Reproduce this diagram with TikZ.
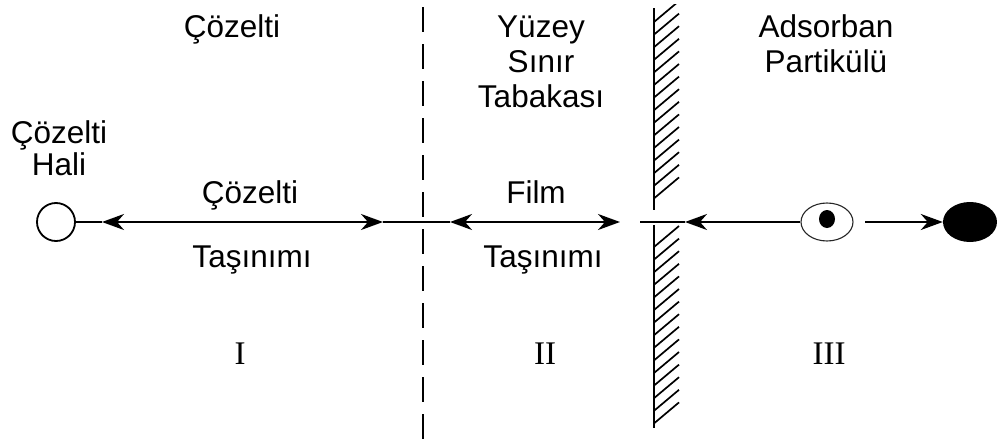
\documentclass[tikz,border=0pt]{standalone}
\usepackage{fontspec}
\setmainfont{Liberation Sans}
\newfontfamily\romanfont{Liberation Serif}
\usetikzlibrary{arrows.meta,shapes.geometric}

\begin{document}
\begin{tikzpicture}[x=1pt,y=-1pt,
  lbl/.style={font=\fontsize{31.5}{35}\selectfont, inner sep=0pt, anchor=base, align=center},
  num/.style={font=\romanfont\fontsize{33}{36}\selectfont, inner sep=0pt, anchor=base},
  flow/.style={line width=2pt},
  tipr/.style={-{Stealth[length=22pt,width=16pt,inset=7pt]}},
  tipb/.style={{Stealth[length=22pt,width=16pt,inset=7pt]}-{Stealth[length=22pt,width=16pt,inset=7pt]}},
  hatch/.style={line width=1.7pt},
]
\useasboundingbox (0,0) rectangle (997,439);

% boundary between bulk solution and film: dashed line
\draw[line width=2pt, dash pattern=on 25pt off 12pt] (423,7) -- (423,439);

% particle surface: wall with hatching, open where the flow line passes
\draw[line width=2.4pt] (654,8) -- (654,210);
\draw[line width=2.4pt] (654,225) -- (654,428);
\begin{scope}
  \clip (654,4) rectangle (690,210);
  \foreach \k in {0,...,14}
    \draw[hatch] (654,{22+12.6*\k}) -- ++(25,-21);
\end{scope}
\begin{scope}
  \clip (654,225) rectangle (690,428);
  \foreach \k in {0,...,14}
    \draw[hatch] (654,{247+12.6*\k}) -- ++(25,-21);
\end{scope}

% states of the solute
\node[circle, draw, line width=1.8pt, minimum size=38pt, inner sep=0pt] (sol) at (56,222) {};
\node[ellipse, draw=black!85, line width=1.1pt, minimum width=52pt, minimum height=38pt, inner sep=0pt] (part) at (827,222) {};
\fill (827,219) ellipse (8 and 9);
\node[ellipse, fill=black, minimum width=54pt, minimum height=40pt, inner sep=0pt] (ads) at (970,222) {};

% points along the flow line
\coordinate (a1) at (102,222);
\coordinate (a2) at (383,222);
\coordinate (b1) at (450,222);
\coordinate (b2) at (620,222);
\coordinate (w) at (640,222);
\coordinate (c1) at (685,222);
\coordinate (d1) at (865,222);

% flow connectors
\draw[flow] (sol) -- (a1);
\draw[flow, tipb] (a1) -- (a2);
\draw[flow] (a2) -- (b1);
\draw[flow, tipb] (b1) -- (b2);
\draw[flow] (w) -- (c1);
\draw[flow, tipr] (part) -- (c1);
\draw[flow, tipr] (d1) -- (ads);

% labels (multi-line nodes sit on the baseline of their last line)
\node[lbl] (h1) at (232,37) {Çözelti};
\node[lbl] (h2) at (541,107) {Yüzey\\Sınır\\Tabakası};
\node[lbl] (h3) at (826,72) {Adsorban\\Partikülü};
\node[lbl, font=\fontsize{31.5}{32}\selectfont] (hs) at (59,175) {Çözelti\\Hali};
\node[lbl] (f1a) at (250,203) {Çözelti};
\node[lbl] (f1b) at (252,267) {Taşınımı};
\node[lbl] (f2a) at (536,203) {Film};
\node[lbl] (f2b) at (543,267) {Taşınımı};

% zone numbers
\node[num] (z1) at (240,364) {I};
\node[num] (z2) at (545,364) {II};
\node[num] (z3) at (829,364) {III};
\end{tikzpicture}
\end{document}
